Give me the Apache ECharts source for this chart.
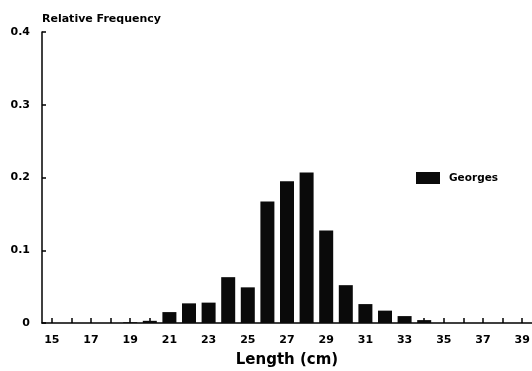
<!DOCTYPE html>
<html>
<head>
<meta charset="utf-8">
<script src="https://cdn.jsdelivr.net/npm/echarts@6/dist/echarts.min.js"></script>
<style>
  html, body { margin: 0; padding: 0; background: #fff; }
  #chart { width: 532px; height: 371px; }
</style>
</head>
<body>
<div id="chart"></div>
<script>
// Length classes (cm)
const lengths = ['15','16','17','18','19','20','21','22','23','24','25','26','27',
                 '28','29','30','31','32','33','34','35','36','37','38','39'];
// Relative frequency per length class, Georges Bank sample
const georges = [0, 0, 0, 0, 0.001, 0.003, 0.015, 0.027, 0.028, 0.063, 0.049, 0.167, 0.195,
                 0.207, 0.127, 0.052, 0.026, 0.017, 0.0095, 0.004, 0, 0, 0, 0, 0];
const yTicks = [0, 0.1, 0.2, 0.3, 0.4];

const FONT = 'DejaVu Sans';
const chart = echarts.init(document.getElementById('chart'));
chart.setOption({
  animation: false,
  textStyle: { fontFamily: FONT },
  grid: { left: 42, top: 32, bottom: 48, width: 490, outerBoundsMode: 'none', containLabel: false },
  legend: {
    data: ['Georges'],
    left: 416, top: 172, padding: 0,
    itemWidth: 24, itemHeight: 12, itemGap: 10,
    icon: 'rect',
    textStyle: { fontFamily: FONT, fontWeight: 'bold', fontSize: 10.5, color: '#000', padding: [0, 0, 0, 4] }
  },
  xAxis: {
    type: 'category',
    data: lengths,
    name: 'Length (cm)',
    nameLocation: 'middle',
    nameGap: 30,
    nameTextStyle: { fontFamily: FONT, fontWeight: 'bold', fontSize: 15, color: '#000' },
    axisLine: { lineStyle: { color: '#000', width: 1.5 } },
    axisTick: { show: true, inside: true, length: 5, alignWithLabel: true, interval: 0, lineStyle: { color: '#000', width: 1.5 } },
    axisLabel: { interval: 1, margin: 12, fontFamily: FONT, fontWeight: 'bold', fontSize: 11, color: '#000' },
    splitLine: { show: false }
  },
  yAxis: {
    type: 'value',
    min: 0, max: 0.4, interval: 0.1,
    name: 'Relative Frequency',
    nameLocation: 'end',
    nameGap: 7,
    nameTextStyle: { fontFamily: FONT, fontWeight: 'bold', fontSize: 11, color: '#000', align: 'left' },
    axisLine: { show: true, lineStyle: { color: '#000', width: 1.5 } },
    axisTick: { show: true, inside: true, length: 4, lineStyle: { color: '#000', width: 1.5 } },
    axisLabel: {
      margin: 12, fontFamily: FONT, fontWeight: 'bold', fontSize: 11, color: '#000',
      formatter: v => {
        const t = yTicks.find(k => Math.abs(k - v) < 1e-9);
        return t === 0 ? '0' : (t !== undefined ? t.toFixed(1) : '');
      }
    },
    splitLine: { show: false }
  },
  series: [{
    name: 'Georges',
    type: 'bar',
    data: georges,
    barWidth: 14,
    itemStyle: { color: '#0a0a0a' }
  }]
});
</script>
</body>
</html>
